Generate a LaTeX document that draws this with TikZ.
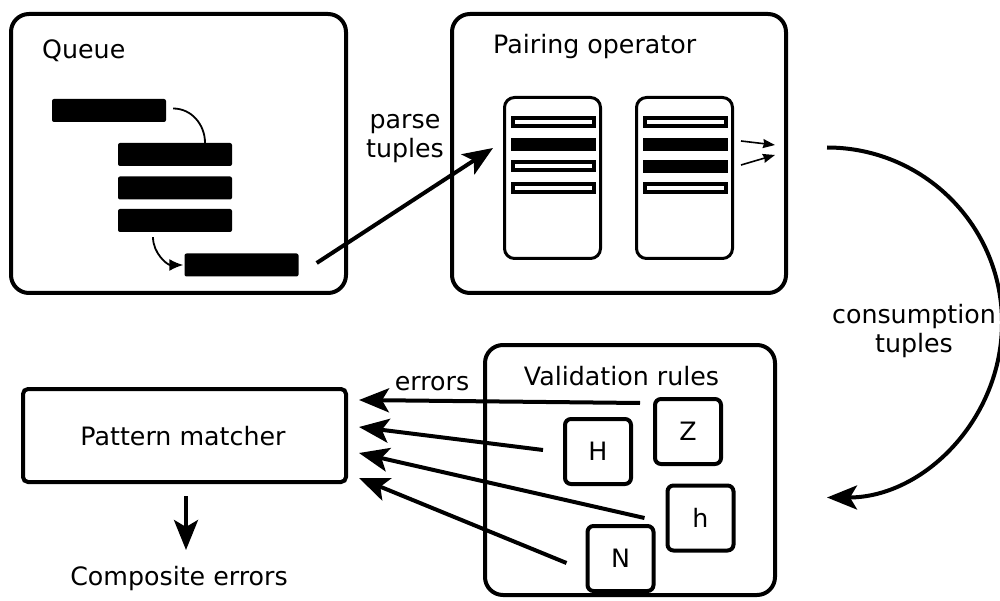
\documentclass[tikz,border=0pt]{standalone}
\usepackage{fontspec}
\setmainfont{DejaVu Sans}
\usetikzlibrary{arrows.meta}
\begin{document}
\begin{tikzpicture}[x=1pt,y=-1pt,
  every node/.style={font=\fontsize{25.3}{29}\selectfont},
  bigbox/.style={draw,line width=4pt,rounded corners=18pt,inner sep=0pt},
  qbar/.style={fill=black,rounded corners=2pt,inner sep=0pt,minimum width=114pt,minimum height=23pt},
  card/.style={draw,line width=3pt,rounded corners=10pt,inner sep=0pt,minimum width=96pt,minimum height=161pt},
  slotopen/.style={draw,line width=4pt,inner sep=0pt,minimum width=81pt,minimum height=8pt},
  slotfull/.style={fill=black,inner sep=0pt,minimum width=85pt,minimum height=13pt},
  rulebox/.style={draw,line width=4pt,rounded corners=6pt,inner sep=0pt,minimum width=66pt,minimum height=65pt},
  bigarrow/.style={line width=4pt,-{Stealth[length=30pt,width=24pt,inset=7pt]}},
  thinarrow/.style={line width=1.6pt,-{Stealth[length=12pt,width=9pt,inset=1pt]}},
  qarrow/.style={line width=1.8pt},
  lbl/.style={inner sep=0pt,align=center}]
\useasboundingbox (0,0) rectangle (1000,601);

% Queue
\node[bigbox,minimum width=335pt,minimum height=279pt] (queue) at (178.5,153.5) {};
\node[lbl,anchor=base west] (qtitle) at (42,59) {Queue};
\node[qbar] (b1) at (109,110.5) {};
\node[qbar] (b2) at (175,154.5) {};
\node[qbar] (b3) at (175,188) {};
\node[qbar] (b4) at (175,220.5) {};
\node[qbar] (b5) at (241.5,265) {};
\draw[qarrow] ([xshift=7pt,yshift=2pt]b1.east) to[out=0,in=90] ([xshift=30pt]b2.north);
\draw[qarrow,-{Latex[length=14pt,width=12pt]}] ([xshift=-22pt,yshift=-5pt]b4.south) to[out=-90,in=180] ([xshift=-1pt]b5.west);

% Pairing operator
\node[bigbox,minimum width=334pt,minimum height=279pt] (pair) at (619,153.5) {};
\node[lbl,anchor=base west] (ptitle) at (493,54) {Pairing operator};
\node[card] (c1) at (552.5,178) {};
\node[card] (c2) at (684.5,178) {};
\node[slotopen] (s11) at (553.5,122) {};
\node[slotfull] (s12) at (553.5,144.5) {};
\node[slotopen] (s13) at (553.5,166.5) {};
\node[slotopen] (s14) at (553.5,188) {};
\node[slotopen] (s21) at (685.5,122) {};
\node[slotfull] (s22) at (685.5,144.5) {};
\node[slotfull] (s23) at (685.5,166.5) {};
\node[slotopen] (s24) at (685.5,188) {};
\draw[thinarrow] ([xshift=7pt,yshift=37pt]c2.east) -- ([xshift=41pt,yshift=33pt]c2.east);
\draw[thinarrow] ([xshift=7pt,yshift=13pt]c2.east) -- ([xshift=41pt,yshift=23pt]c2.east);

% Queue -> pairing
\draw[bigarrow] ([xshift=18pt,yshift=2pt]b5.east) -- ([xshift=-10pt,yshift=30pt]c1.west);
\node[lbl] (parse) at (405,139) {parse\\tuples};

% Pairing -> validation
\draw[bigarrow] ([xshift=39pt,yshift=6pt]pair.east) arc[start angle=90,end angle=-90,radius=175pt];
\node[lbl] (cons) at (914,331) {consumption\\tuples};

% Validation rules
\node[bigbox,minimum width=290pt,minimum height=250pt] (valid) at (630,470) {};
\node[lbl,anchor=base] (vtitle) at (621.5,385) {Validation rules};
\node[rulebox] (rH) at (598,451.5) {H};
\node[rulebox] (rZ) at (688,431.5) {Z};
\node[rulebox] (rh) at (700.5,518) {h};
\node[rulebox] (rN) at (620.5,558.5) {N};

% Pattern matcher
\node[draw,line width=4pt,rounded corners=5pt,minimum width=323pt,minimum height=93pt,inner sep=0pt] (pm) at (184.5,435.5) {};
\node[lbl,anchor=base] (pmtext) at (183,445) {Pattern matcher};
\draw[bigarrow] ([xshift=-13pt,yshift=28.5pt]rZ.west) -- ([xshift=11pt,yshift=35.5pt]pm.east);
\draw[bigarrow] ([xshift=-20pt,yshift=1.5pt]rH.west) -- ([xshift=11pt,yshift=8.5pt]pm.east);
\draw[bigarrow] ([xshift=-21pt,yshift=0pt]rh.west) -- ([xshift=11pt,yshift=-17.5pt]pm.east);
\draw[bigarrow] ([xshift=-19pt,yshift=-4.5pt]rN.west) -- ([xshift=11pt,yshift=-42.5pt]pm.east);
\node[lbl,anchor=base] (errs) at (432,390) {errors};

% Output
\node[lbl,anchor=base] (comp) at (179,585) {Composite errors};
\draw[bigarrow] ([xshift=1.5pt,yshift=-12pt]pm.south) -- ([xshift=1.5pt,yshift=-66pt]pm.south);
\end{tikzpicture}
\end{document}
